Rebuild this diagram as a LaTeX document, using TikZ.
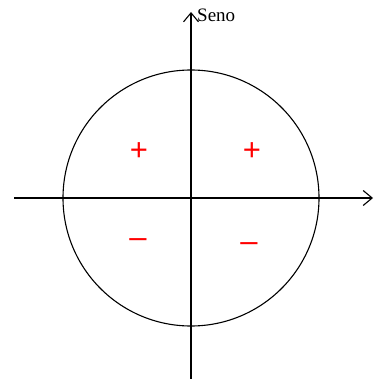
\documentclass[tikz,border=0pt]{standalone}
\usepackage{fontspec}
\setmainfont{Liberation Serif}
\newfontfamily\signfont{Liberation Sans}
\usepackage{xcolor}
\usetikzlibrary{arrows.meta,positioning}

\begin{document}
\begin{tikzpicture}[
			x=1pt, y=-1pt,
			axis/.style={line width=1.1pt, -{Straight Barb[length=9pt,width=15pt,line width=1.1pt]}},
			sign/.style={text=red, font=\signfont\fontsize{31}{31}\selectfont, inner sep=0pt},
			circ/.style={circle, draw, line width=1.1pt, minimum size=256pt, inner sep=0pt}
			]
			\useasboundingbox (0,0) rectangle (374,379);
			\coordinate (o) at (191,198);
			\coordinate (xs) at (14,198);
			\coordinate (xe) at (373,198);
			\coordinate (ys) at (191,379);
			\coordinate (ye) at (191,12);
			\node[circ] (circle) at (o) {};
			\draw[axis] (xs) -- (xe);
			\draw[axis] (ys) -- (ye);
			\node[anchor=base west, inner sep=0pt, font=\fontsize{19}{19}\selectfont] (seno) at (197,22) {Seno};
			% signos por cuadrante
			\node[sign] (q2) at (139,152) {+};
			\node[sign] (q1) at (252,152) {+};
			\node[sign] (q3) at (138,243) {\textendash};
			\node[sign] (q4) at (249,247) {\textendash};
		\end{tikzpicture}
\end{document}
